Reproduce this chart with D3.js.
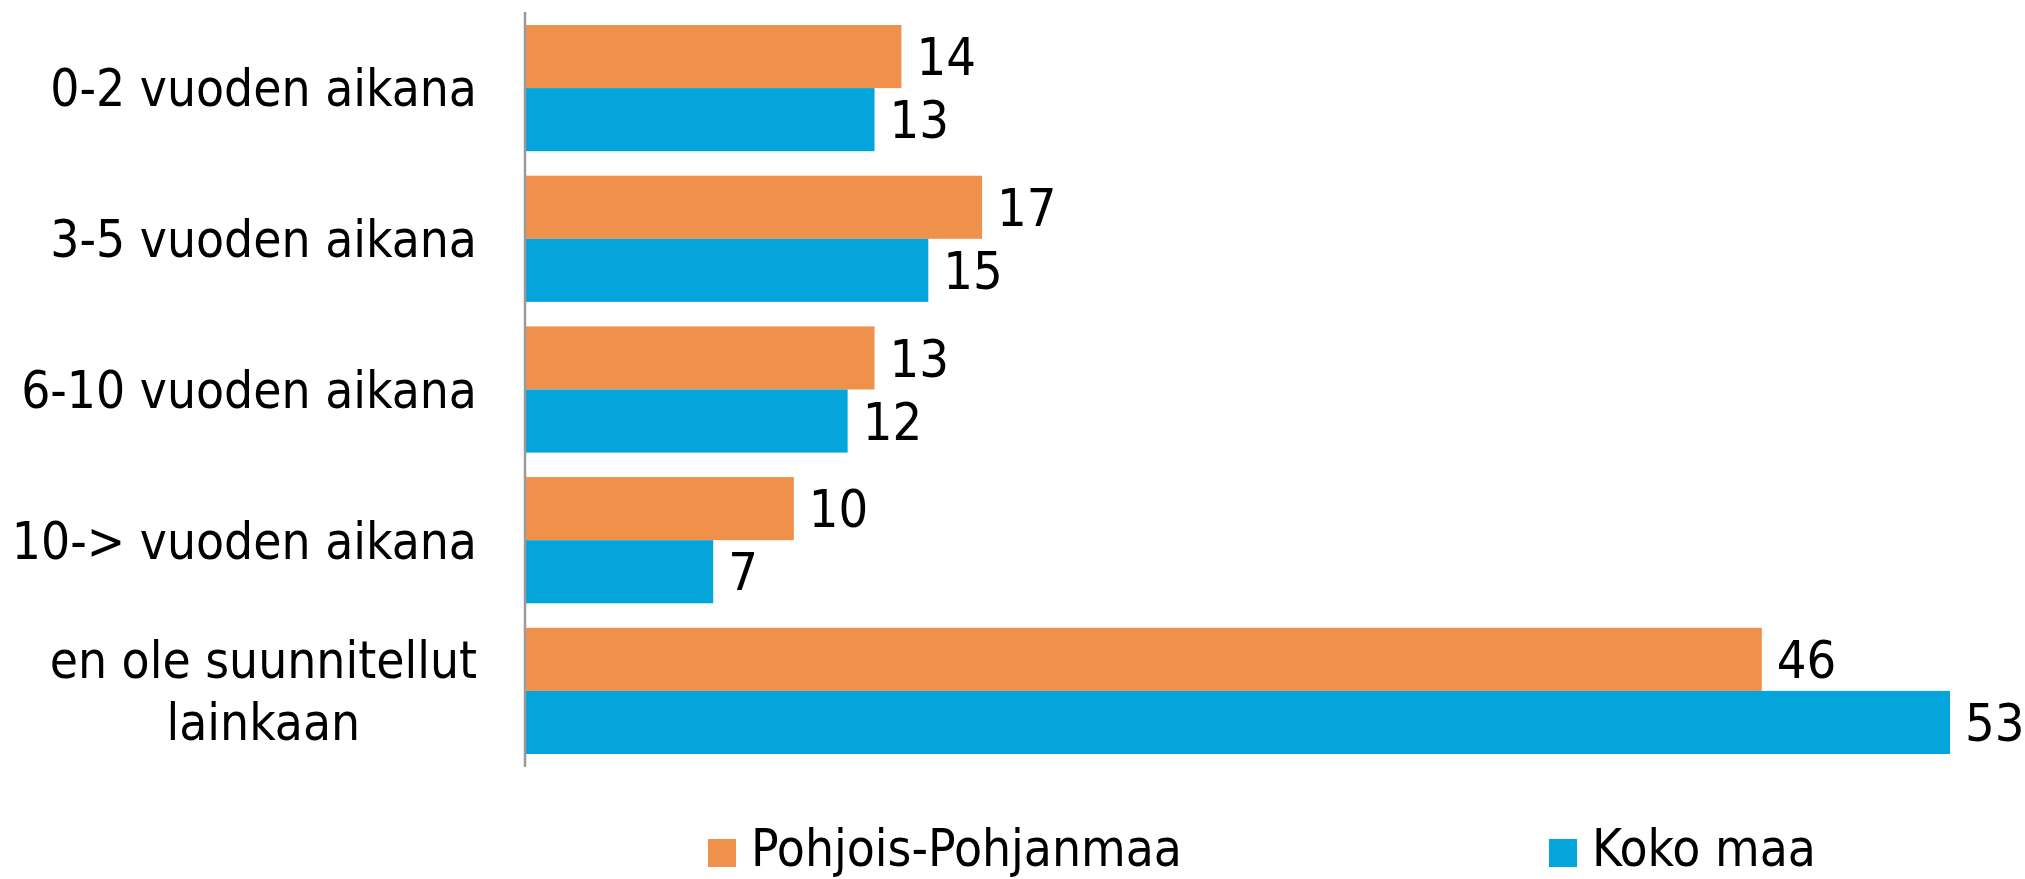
<!DOCTYPE html>
<html lang="fi">
<head>
<meta charset="utf-8">
<title>Suunnitelmat</title>
<script src="https://d3js.org/d3.v7.min.js"></script>
<style>
  html, body { margin: 0; padding: 0; background: #fff; }
  svg text { font-family: "DejaVu Sans Condensed", "DejaVu Sans", sans-serif; fill: #000; }
</style>
</head>
<body>
<div id="chart"></div>
<script>
// data
var categories = [["0-2 vuoden aikana"], ["3-5 vuoden aikana"], ["6-10 vuoden aikana"], ["10-> vuoden aikana"], ["en ole suunnitellut", "lainkaan"]];
var seriesNames = ["Pohjois-Pohjanmaa", "Koko maa"];
var pohjoisPohjanmaa = [14, 17, 13, 10, 46];
var kokoMaa = [13, 15, 12, 7, 53];
var colors = ["#f0914b", "#03a5da"];

var width = 2025, height = 879;
var fontSize = 51;

var svg = d3.select("#chart").append("svg")
    .attr("width", width)
    .attr("height", height);

var values = [pohjoisPohjanmaa, kokoMaa];

// scales
var x = d3.scaleLinear()
    .domain([0, 53])
    .range([525, 1950]);

var y = d3.scaleBand()
    .domain(d3.range(categories.length))
    .range([12, 767])
    .paddingInner(0.1626)
    .paddingOuter(0.0863);

var ySub = d3.scaleBand()
    .domain(d3.range(seriesNames.length))
    .range([0, y.bandwidth()]);

// bars + value labels
var groups = svg.selectAll("g.group")
    .data(categories)
    .enter()
    .append("g")
    .attr("class", "group")
    .attr("transform", function(d, i) { return "translate(0," + y(i) + ")"; });

groups.each(function(cat, i) {
    var g = d3.select(this);
    seriesNames.forEach(function(s, j) {
        var v = values[j][i];
        g.append("rect")
            .attr("x", x(0))
            .attr("y", ySub(j))
            .attr("width", x(v) - x(0))
            .attr("height", ySub.bandwidth())
            .attr("fill", colors[j]);
        g.append("text")
            .attr("x", x(v) + 15)
            .attr("y", ySub(j) + ySub.bandwidth() / 2 + 0.36 * 52)
            .attr("font-size", 52)
            .text(v);
    });
});

// axis line
svg.append("line")
    .attr("x1", x(0)).attr("x2", x(0))
    .attr("y1", y.range()[0]).attr("y2", y.range()[1])
    .attr("stroke", "#9a9a9a")
    .attr("stroke-width", 2.5);

// category labels (multi-line ones centred, block right-aligned)
var labelRight = 477, lineGap = 62;
categories.forEach(function(lines, i) {
    var cy = y(i) + y.bandwidth() / 2;
    var top = cy - (lines.length - 1) * lineGap / 2;
    var t = svg.append("g");
    var nodes = lines.map(function(l, k) {
        return t.append("text")
            .attr("y", top + k * lineGap + 0.36 * fontSize)
            .attr("font-size", fontSize)
            .text(l);
    });
    var maxW = d3.max(nodes, function(n) { return n.node().getComputedTextLength(); });
    nodes.forEach(function(n) {
        n.attr("text-anchor", "middle").attr("x", labelRight - maxW / 2);
    });
});

// legend
var legendX = [708, 1549];
var legend = svg.selectAll("g.legend")
    .data(seriesNames)
    .enter()
    .append("g")
    .attr("class", "legend")
    .attr("transform", function(d, i) { return "translate(" + legendX[i] + ",839)"; });

legend.append("rect")
    .attr("width", 28)
    .attr("height", 28)
    .attr("fill", function(d, i) { return colors[i]; });

legend.append("text")
    .attr("x", 43)
    .attr("y", 27)
    .attr("font-size", fontSize)
    .text(function(d) { return d; });
</script>
</body>
</html>
